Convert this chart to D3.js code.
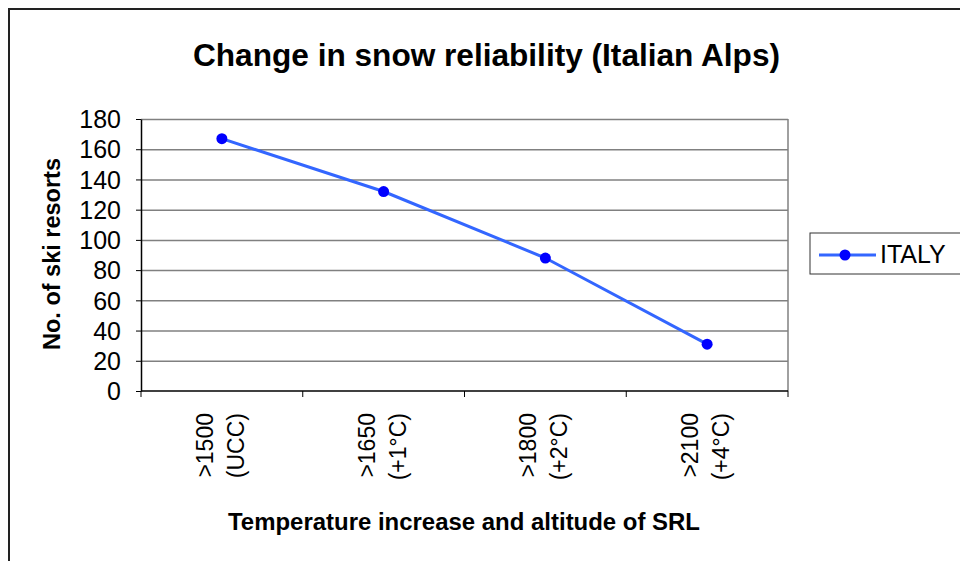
<!DOCTYPE html>
<html>
<head>
<meta charset="utf-8">
<script src="https://cdn.jsdelivr.net/npm/d3@7"></script>
<style>
  body { margin: 0; background: #fff; }
  text { font-family: "Liberation Sans", Arial, sans-serif; }
</style>
</head>
<body>
<script>
// data
var categories = ['>1500 (UCC)', '>1650 (+1°C)', '>1800 (+2°C)', '>2100 (+4°C)'];
var labelLines = [['>1500', '(UCC)'], ['>1650', '(+1°C)'], ['>1800', '(+2°C)'], ['>2100', '(+4°C)']];
var italy = [167, 132, 88, 31];
var yTicks = [0, 20, 40, 60, 80, 100, 120, 140, 160, 180];
var seriesName = 'ITALY';

var W = 960, H = 561;
var plot = {left: 141, right: 788, top: 119, bottom: 391};

var svg = d3.select('body').append('svg').attr('width', W).attr('height', H);

// outer chart frame (only top and left show in the picture)
svg.append('rect').attr('x', 9).attr('y', 9).attr('width', 1000).attr('height', 600)
    .attr('fill', 'none').attr('stroke', '#222').attr('stroke-width', 2);

var x = d3.scaleBand().domain(categories).range([plot.left, plot.right]).padding(0);
var y = d3.scaleLinear().domain([0, 180]).range([plot.bottom, plot.top]);

// gridlines
svg.append('g').attr('transform', 'translate(' + plot.left + ',0)')
    .call(d3.axisLeft(y).tickValues(yTicks.slice(1)).tickSize(-(plot.right - plot.left)).tickFormat(''))
    .call(function(g){ g.select('.domain').remove(); })
    .selectAll('line').attr('stroke', '#808080').attr('stroke-width', 1.5);

// right border of plot area
svg.append('line').attr('x1', plot.right).attr('x2', plot.right)
    .attr('y1', plot.top).attr('y2', plot.bottom)
    .attr('stroke', '#808080').attr('stroke-width', 1.5);

// y axis
var yAxis = svg.append('g').attr('transform', 'translate(' + plot.left + ',0)')
    .call(d3.axisLeft(y).tickValues(yTicks).tickSize(5).tickPadding(15).tickSizeOuter(0));
yAxis.select('.domain').attr('stroke', '#000').attr('stroke-width', 1.5);
yAxis.selectAll('line').attr('stroke', '#000');
yAxis.selectAll('text').attr('font-size', 25).attr('fill', '#000').attr('dy', '0.35em')
    .attr('font-family', '"Liberation Sans", Arial, sans-serif');

// x axis line with ticks on category boundaries
var bounds = categories.map(function(c){ return x(c); }).concat([plot.right]);
svg.append('line').attr('x1', plot.left).attr('x2', plot.right)
    .attr('y1', plot.bottom).attr('y2', plot.bottom)
    .attr('stroke', '#000').attr('stroke-width', 1.5);
svg.selectAll('.xtick').data(bounds).enter().append('line').attr('class', 'xtick')
    .attr('x1', function(d){ return d; }).attr('x2', function(d){ return d; })
    .attr('y1', plot.bottom).attr('y2', plot.bottom + 6)
    .attr('stroke', '#000').attr('stroke-width', 1);

// rotated category labels, two lines each
var lbl = svg.selectAll('.xlabel').data(categories).enter().append('text').attr('class', 'xlabel')
    .attr('transform', function(d){ return 'translate(' + (x(d) + x.bandwidth() / 2) + ',' + (plot.bottom + 22) + ') rotate(-90)'; })
    .attr('text-anchor', 'end').attr('font-size', 23).attr('fill', '#000');
lbl.each(function(d, i){
    var t = d3.select(this);
    t.append('tspan').attr('x', 0).attr('y', -9).text(labelLines[i][0]);
    t.append('tspan').attr('x', 0).attr('y', 22).text(labelLines[i][1]);
});

// series line and markers
var line = d3.line()
    .x(function(d, i){ return x(categories[i]) + x.bandwidth() / 2; })
    .y(function(d){ return y(d); });
svg.append('path').datum(italy).attr('d', line)
    .attr('fill', 'none').attr('stroke', '#3366ff').attr('stroke-width', 3);
svg.selectAll('.pt').data(italy).enter().append('circle').attr('class', 'pt')
    .attr('cx', function(d, i){ return x(categories[i]) + x.bandwidth() / 2; })
    .attr('cy', function(d){ return y(d); })
    .attr('r', 5.5).attr('fill', '#0000ff');

// titles
svg.append('text').attr('x', 193).attr('y', 66)
    .attr('font-size', 31).attr('font-weight', 'bold')
    .attr('textLength', 587).attr('lengthAdjust', 'spacingAndGlyphs')
    .text('Change in snow reliability (Italian Alps)');
svg.append('text').attr('x', 228).attr('y', 530)
    .attr('font-size', 23).attr('font-weight', 'bold')
    .attr('textLength', 472).attr('lengthAdjust', 'spacingAndGlyphs')
    .text('Temperature increase and altitude of SRL');
svg.append('text').attr('transform', 'translate(60,350) rotate(-90)')
    .attr('font-size', 23).attr('font-weight', 'bold')
    .attr('textLength', 192).attr('lengthAdjust', 'spacingAndGlyphs')
    .text('No. of ski resorts');

// legend
var lg = svg.append('g');
lg.append('rect').attr('x', 810).attr('y', 233).attr('width', 160).attr('height', 41)
    .attr('fill', '#fff').attr('stroke', '#333').attr('stroke-width', 1);
lg.append('line').attr('x1', 819).attr('x2', 876).attr('y1', 255).attr('y2', 255)
    .attr('stroke', '#3366ff').attr('stroke-width', 3);
lg.append('circle').attr('cx', 845).attr('cy', 255).attr('r', 5.5).attr('fill', '#0000ff');
lg.append('text').attr('x', 880).attr('y', 263).attr('font-size', 25).text(seriesName);
</script>
</body>
</html>
